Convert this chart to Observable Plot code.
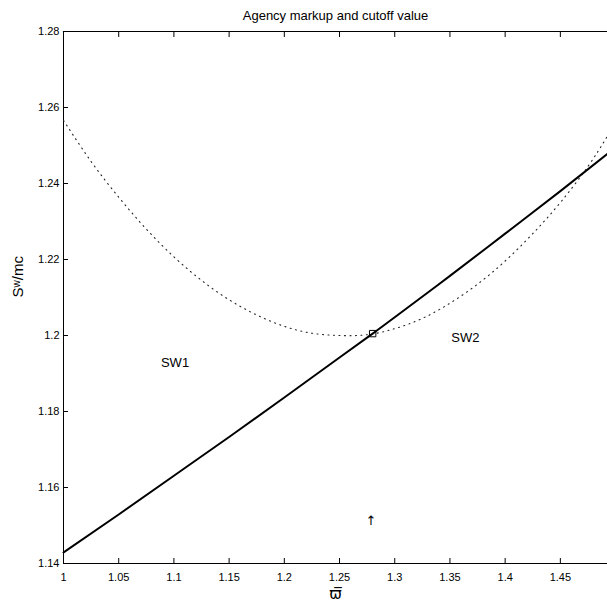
<!DOCTYPE html>
<html><head><meta charset="utf-8">
<script src="https://cdn.jsdelivr.net/npm/d3@7"></script>
<script src="https://cdn.jsdelivr.net/npm/@observablehq/plot@0.6"></script>
<style>body{margin:0;background:#fff} svg{display:block}</style>
</head><body><div id="chart"></div>
<script>
// Solid line: agency markup
const markupX = [1.00, 1.05, 1.10, 1.15, 1.20, 1.25, 1.28, 1.30, 1.35, 1.40, 1.45, 1.4927];
const markupY = [1.1429, 1.1529, 1.1631, 1.1733, 1.1837, 1.1942, 1.2005, 1.2048, 1.2157, 1.2268, 1.2380, 1.2478];
// Dotted line: cutoff value
const cutoffX = [1.00, 1.025, 1.05, 1.075, 1.10, 1.125, 1.15, 1.175, 1.20, 1.225, 1.25, 1.275, 1.30, 1.325, 1.35, 1.375, 1.40, 1.425, 1.45, 1.475, 1.4927];
const cutoffY = [1.2566, 1.2458, 1.2364, 1.2280, 1.2207, 1.2145, 1.2094, 1.2054, 1.2024, 1.2006, 1.2000, 1.2002, 1.2018, 1.2045, 1.2085, 1.2135, 1.2196, 1.2268, 1.2350, 1.2445, 1.2525];
// Intersection marker
const markerX = [1.28];
const markerY = [1.2005];
// Region labels
const labelText = ["SW1", "SW2"];
const labelX = [1.101, 1.364];
const labelY = [1.1929, 1.1995];
// Arrow annotation
const arrowText = ["\u2191\uFE0E"];
const arrowX = [1.2785];
const arrowY = [1.1513];
// Ticks
const xTicks = [1, 1.05, 1.1, 1.15, 1.2, 1.25, 1.3, 1.35, 1.4, 1.45];
const yTicks = [1.14, 1.16, 1.18, 1.2, 1.22, 1.24, 1.26, 1.28];
const titleText = "Agency markup and cutoff value";
const xLabel = "ϖ\u0305";
const yLabel = "Sʷ/mc";

const markup = markupX.map((x, i) => ({x, y: markupY[i]}));
const cutoff = cutoffX.map((x, i) => ({x, y: cutoffY[i]}));
const marker = markerX.map((x, i) => ({x, y: markerY[i]}));
const labels = labelText.map((t, i) => ({t, x: labelX[i], y: labelY[i]}));
const arrows = arrowText.map((t, i) => ({t, x: arrowX[i], y: arrowY[i]}));

const font = "Liberation Sans, Arial, Helvetica, sans-serif";
const plot = Plot.plot({
  width: 607, height: 611,
  marginLeft: 63, marginRight: 0, marginTop: 31, marginBottom: 48,
  style: {fontFamily: font, fontSize: "11px", background: "#fff", color: "#000"},
  x: {domain: [1, 1.4927]},
  y: {domain: [1.14, 1.28]},
  marks: [
    Plot.axisX(xTicks, {anchor: "bottom", tickSize: -5, tickPadding: 15, tickFormat: d => String(d), label: null, fontSize: 11}),
    Plot.axisX(xTicks, {anchor: "top", tickSize: -5, tickFormat: () => "", label: null}),
    Plot.axisY(yTicks, {anchor: "left", tickSize: -5, tickPadding: 9, tickFormat: d => String(d), label: null, fontSize: 11}),
    Plot.frame({anchor: "top", stroke: "#000", strokeWidth: 1.2}),
    Plot.frame({anchor: "left", stroke: "#000"}),
    Plot.frame({anchor: "bottom", stroke: "#000"}),
    Plot.line(cutoff, {x: "x", y: "y", stroke: "#222", strokeWidth: 1.1, strokeDasharray: "1,4.5", curve: "natural"}),
    Plot.line(markup, {x: "x", y: "y", stroke: "#000", strokeWidth: 2, curve: "natural"}),
    Plot.dot(marker, {x: "x", y: "y", symbol: "square", r: 3.6, stroke: "#000", strokeWidth: 1, fill: "none"}),
    Plot.text(labels, {x: "x", y: "y", text: "t", fontSize: 13, fill: "#000"}),
    Plot.text(arrows, {x: "x", y: "y", text: "t", fontSize: 13, fill: "#000", fontFamily: "DejaVu Sans"}),
    Plot.text([titleText], {frameAnchor: "top", dy: -21, fontSize: 13, fill: "#000"}),
    Plot.text([xLabel], {frameAnchor: "bottom", dy: 35, fontSize: 15, fill: "#000", fontFamily: "DejaVu Sans, sans-serif"}),
    Plot.text([yLabel], {frameAnchor: "left", dx: -45, rotate: -90, fontSize: 15, fill: "#000"})
  ]
});
document.getElementById("chart").appendChild(plot);
</script>
</body></html>
